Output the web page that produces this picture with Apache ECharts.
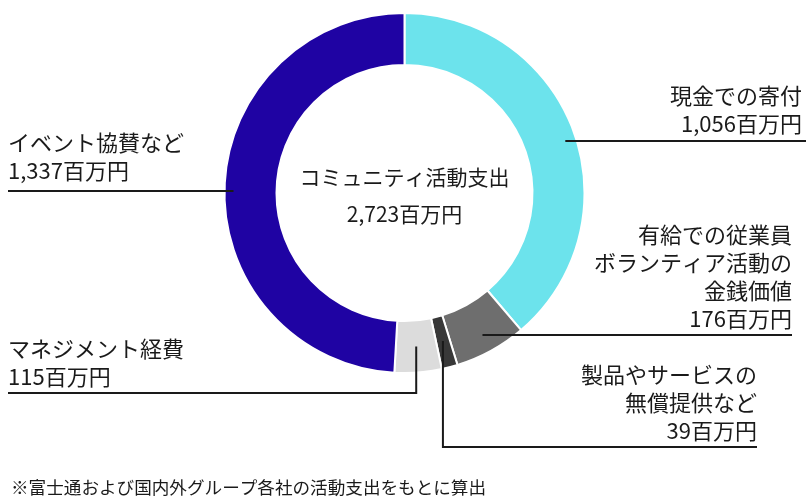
<!DOCTYPE html>
<html><head><meta charset="utf-8">
<script src="https://cdn.jsdelivr.net/npm/echarts@6/dist/echarts.min.js"></script>
<style>html,body{margin:0;padding:0;background:#fff}#c{width:809px;height:500px}</style>
</head><body><div id="c"></div>
<script>
const categories = ['現金での寄付', '有給での従業員\nボランティア活動の\n金銭価値', '製品やサービスの\n無償提供など', 'マネジメント経費', 'イベント協賛など'];
const values = [1056, 176, 39, 115, 1337];
const colors = ['#6ce3ec', '#6e6e6e', '#383838', '#dcdcdc', '#1f03a3'];
const centerTitle = 'コミュニティ活動支出';
const unit = '百万円';
const footnote = '※富士通および国内外グループ各社の活動支出をもとに算出';

const total = values.reduce((a, b) => a + b, 0);
const fmt = v => v.toLocaleString('en-US');
const mids = []; let acc = 0;
values.forEach(v => { mids.push((acc + v / 2) / total * 2 * Math.PI); acc += v; });

const W = 809, H = 500, cx = W * 0.5, cy = H * 0.386;
const FONT = '"Noto Sans CJK JP", "Noto Sans", sans-serif';
const layoutCfg = [
  {mode: 'h', lineY: 141, r: 169, endX: 806, textX: 802, side: 'right', gap: 3},
  {mode: 'h', lineY: 335, r: 162, endX: 792, textX: 792, side: 'right', gap: 2},
  {mode: 'v', r: 153, lineY: 447, endX: 757, textX: 757, side: 'right', gap: 2},
  {mode: 'v', r: 154, lineY: 393, endX: 8, textX: 8, side: 'left', gap: 2},
  {mode: 'h', lineY: 191, r: 171, endX: 8, textX: 8, side: 'left', gap: 6}
];

const pieBase = {
  type: 'pie',
  center: ['50%', '38.6%'],
  radius: ['51.2%', '72%'],
  startAngle: 90,
  clockwise: true,
  avoidLabelOverlap: false,
  emphasis: {disabled: true},
  silent: true
};

const chart = echarts.init(document.getElementById('c'), null, {renderer: 'canvas'});
chart.setOption({
  animation: false,
  title: [
    {text: centerTitle, left: 'center', top: 159, textStyle: {fontSize: 21, lineHeight: 26, fontWeight: 'normal', color: '#1a1a1a', fontFamily: FONT}},
    {text: fmt(total) + unit, left: 'center', top: 196, textStyle: {fontSize: 21, lineHeight: 26, fontWeight: 'normal', color: '#1a1a1a', fontFamily: FONT}},
    {text: footnote, left: 6, top: 471, textStyle: {fontSize: 17.6, lineHeight: 22, fontWeight: 'normal', color: '#1a1a1a', fontFamily: FONT}}
  ],
  series: [
    Object.assign({}, pieBase, {
      z: 2,
      data: categories.map((n, i) => ({name: n, value: values[i], itemStyle: {color: colors[i]}})),
      itemStyle: {borderColor: '#fff', borderWidth: 2},
      label: {show: false},
      labelLine: {show: false}
    }),
    Object.assign({}, pieBase, {
      z: 5,
      data: categories.map((n, i) => ({name: n, value: values[i]})),
      itemStyle: {color: 'rgba(0,0,0,0)', borderWidth: 0},
      label: {
        show: true, position: 'outside',
        formatter: p => p.name + '\n' + fmt(p.value) + unit,
        fontSize: 22, lineHeight: 28, color: '#1a1a1a', fontFamily: FONT
      },
      labelLine: {show: true, showAbove: true, smooth: false, minTurnAngle: 0, maxSurfaceAngle: 180, lineStyle: {color: '#1a1a1a', width: 2}},
      labelLayout: function (p) {
        const i = p.dataIndex, c = layoutCfg[i], a = mids[i];
        let pts;
        if (c.mode === 'h') {
          const dy = c.lineY - cy;
          const dx = Math.sqrt(c.r * c.r - dy * dy) * (c.side === 'right' ? 1 : -1);
          pts = [[cx + dx, c.lineY], [c.endX, c.lineY]];
        } else {
          const ax = cx + c.r * Math.sin(a), ay = cy - c.r * Math.cos(a);
          pts = [[ax, ay], [ax, c.lineY], [c.endX, c.lineY]];
        }
        return {x: c.textX, y: c.lineY - c.gap, align: c.side, verticalAlign: 'bottom', labelLinePoints: pts};
      }
    })
  ]
});
</script></body></html>
